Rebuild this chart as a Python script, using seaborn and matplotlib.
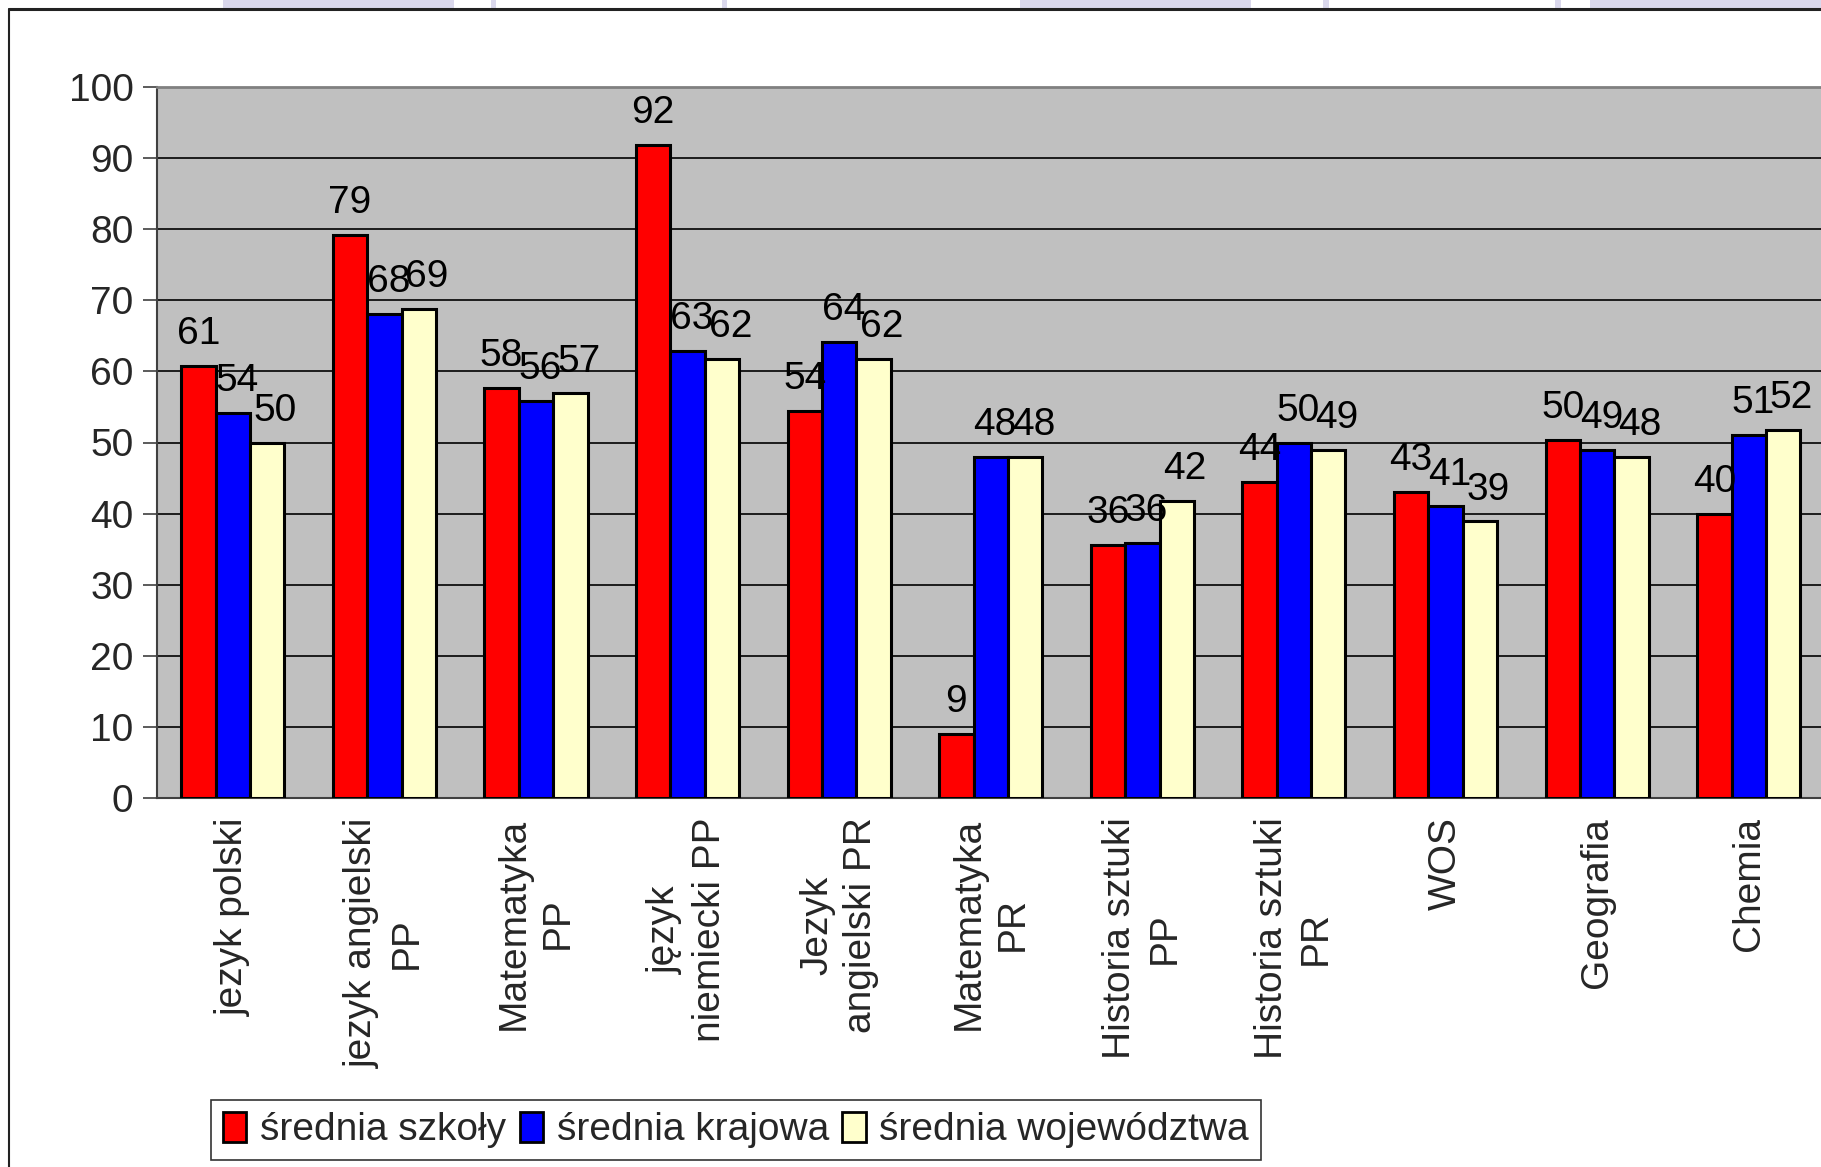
import matplotlib.pyplot as plt
import matplotlib.patches as mpatches
import matplotlib.lines as mlines
import seaborn as sns
import pandas as pd
import numpy as np

# values
przedmioty = ["jezyk polski", "jezyk angielski\nPP", "Matematyka\nPP", "język\nniemiecki PP",
              "Jezyk\nangielski PR", "Matematyka\nPR", "Historia sztuki\nPP", "Historia sztuki\nPR",
              "WOS", "Geografia", "Chemia"]
serie = ["średnia szkoły", "średnia krajowa", "średnia województwa"]
srednia_szkoly = [60.8, 79.2, 57.7, 91.8, 54.4, 9.0, 35.6, 44.4, 43.0, 50.3, 40.0]
srednia_krajowa = [54.1, 68.1, 55.9, 62.9, 64.1, 48.0, 35.9, 50.0, 41.0, 48.9, 51.1]
srednia_wojewodztwa = [50.0, 68.8, 56.9, 61.8, 61.8, 48.0, 41.8, 48.9, 38.9, 48.0, 51.8]
kolory = ["#FF0000", "#0000FF", "#FFFFCC"]

df = pd.DataFrame({
    "przedmiot": przedmioty * 3,
    "seria": [s for s in serie for _ in przedmioty],
    "wynik": srednia_szkoly + srednia_krajowa + srednia_wojewodztwa,
})

sns.set_style("white")
plt.rcParams['font.family'] = ['Liberation Sans', 'DejaVu Sans']
FS = 28

fig = plt.figure(figsize=(18.21, 11.67), dpi=100)
W, H = 1821, 1167
ax = fig.add_axes([157 / W, (H - 798) / H, 1667.5 / W, 711 / H])
ax.set_facecolor("#C0C0C0")

sns.barplot(data=df, x="przedmiot", y="wynik", hue="seria", palette=kolory,
            width=0.68, saturation=1, edgecolor="black", linewidth=2.2,
            errorbar=None, ax=ax, zorder=3)

# labels above bars, later series nudged a little to the right like in Excel
for cont, dx in zip(ax.containers, [0, 3, 6]):
    for t in ax.bar_label(cont, fmt="%.0f", padding=10, fontsize=FS, color="black"):
        t.xyann = (dx, 10)

ax.set_ylim(0, 100)
ax.set_xlim(-0.5, len(przedmioty) - 0.5)
ax.set_yticks(range(0, 101, 10))
ax.yaxis.grid(True, color="black", linewidth=1.2)
ax.set_axisbelow(True)
ax.set_xlabel("")
ax.set_ylabel("")

ax.set_xticks(range(len(przedmioty)))
ax.set_xticklabels(przedmioty, rotation=90, va="top", ha="center",
                   multialignment="center", fontsize=FS, linespacing=1.3)
ax.set_xticks(np.arange(-0.5, len(przedmioty), 1), minor=True)
ax.tick_params(axis="x", which="major", length=0, pad=14)
ax.tick_params(axis="x", which="minor", length=10, width=1.2, color="#404040", direction="out")
ax.tick_params(axis="y", length=10, width=1.2, color="#404040", direction="out",
               labelsize=FS, pad=7, left=True)

for s in ["top", "right"]:
    ax.spines[s].set_color("#808080")
    ax.spines[s].set_linewidth(2)
for s in ["left", "bottom"]:
    ax.spines[s].set_color("#404040")
    ax.spines[s].set_linewidth(1.5)

ax.get_legend().remove()
uchwyty = [mpatches.Patch(facecolor=c, edgecolor="black", linewidth=2) for c in kolory]
leg = fig.legend(uchwyty, serie, loc="center", bbox_to_anchor=(736 / W, 1 - 1130 / H),
                 ncol=3, fontsize=FS, frameon=True, fancybox=False, edgecolor="black",
                 handlelength=0.6, handleheight=0.8, handletextpad=0.35,
                 columnspacing=0.35, borderpad=0.3)
leg.get_frame().set_linewidth(1.2)

# slide decorations: frame lines and tabs at the top edge
fig.add_artist(mlines.Line2D([9 / W, 1], [1 - 9 / H, 1 - 9 / H], color="#222222", linewidth=2.2))
fig.add_artist(mlines.Line2D([9 / W, 9 / W], [0, 1 - 9 / H], color="#222222", linewidth=1.5))
for x0, x1 in [(223, 454), (491, 496), (722, 727), (1020, 1251), (1323, 1329), (1555, 1561), (1590, 1821)]:
    fig.add_artist(mpatches.Rectangle((x0 / W, 1 - 8 / H), (x1 - x0) / W, 8 / H,
                                      facecolor="#DAD8EC", edgecolor="none"))

fig.savefig("out.png", dpi=100)
